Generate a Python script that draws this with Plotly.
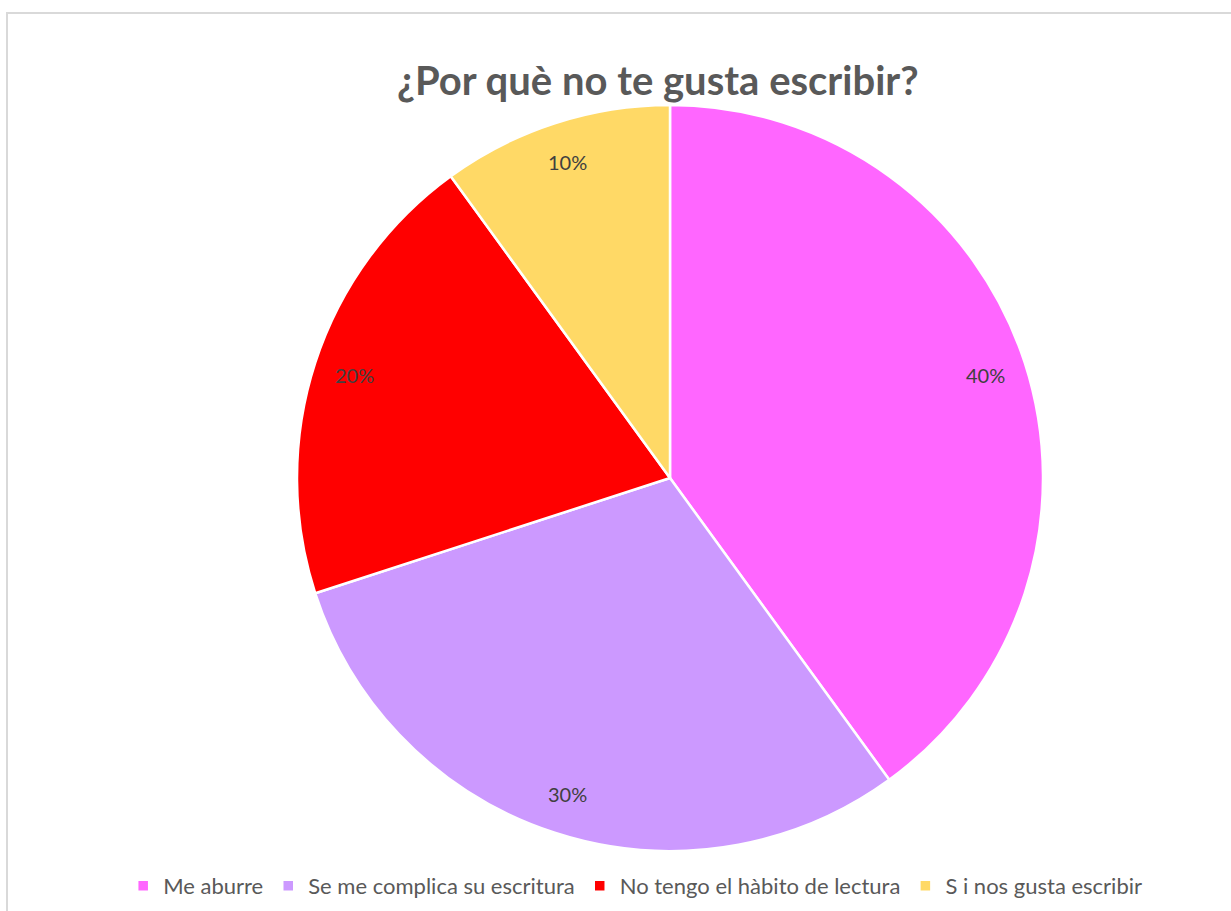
import math
import plotly.graph_objects as go

categories = ["Me aburre", "Se me complica su escritura", "No tengo el hàbito de lectura", "S i nos gusta escribir"]
values = [40, 30, 20, 10]
colors = ["#FF66FF", "#CC99FF", "#FF0000", "#FFD966"]
title_text = "¿Por què no te gusta escribir?"

W, H = 1231, 911
cx, cy, R = 670, 478, 373
dom_x = [(cx - R) / W, (cx + R) / W]
dom_y = [(H - (cy + R)) / H, (H - (cy - R)) / H]

fig = go.Figure()
fig.add_trace(go.Pie(
    labels=categories, values=values, sort=False, direction="clockwise", rotation=0,
    marker=dict(colors=colors, line=dict(color="white", width=2.5)),
    textinfo="none", hoverinfo="label+percent",
    domain=dict(x=dom_x, y=dom_y),
))

# data labels at the slice mid-angle
total = sum(values)
cum = 0
annotations = []
for v in values:
    mid = (cum + v / 2) / total * 2 * math.pi
    cum += v
    r = 0.89 * R
    px = cx + r * math.sin(mid)
    py = cy - r * math.cos(mid)
    annotations.append(dict(
        x=px / W, y=1 - py / H, xref="paper", yref="paper",
        xanchor="center", yanchor="middle",
        text=f"{round(v / total * 100)}%", showarrow=False,
        font=dict(family="Lato", size=20, color="#404040"),
    ))

annotations.append(dict(
    x=658 / W, y=1 - 80 / H, xref="paper", yref="paper", text="<b>" + title_text + "</b>",
    xanchor="center", yanchor="middle",
    showarrow=False, font=dict(family="Lato", size=40, color="#595959"),
))

fig.update_layout(
    width=W, height=H,
    margin=dict(l=0, r=0, t=0, b=0),
    paper_bgcolor="white",
    annotations=annotations,
    showlegend=True,
    legend=dict(orientation="h", x=0.516, xanchor="center", y=1 - 886 / H, yanchor="middle",
                font=dict(family="Lato", size=22, color="#595959"),
                itemwidth=30, tracegroupgap=0),
    shapes=[dict(type="rect", xref="paper", yref="paper", x0=7 / W, y0=-0.01, x1=1.01, y1=1 - 13 / H,
                 line=dict(color="#D9D9D9", width=2), fillcolor="rgba(0,0,0,0)", layer="below")],
)

fig.write_html("out.html", config={"displayModeBar": False},
               post_script="document.body.style.margin='0';document.body.style.overflow='hidden';")
